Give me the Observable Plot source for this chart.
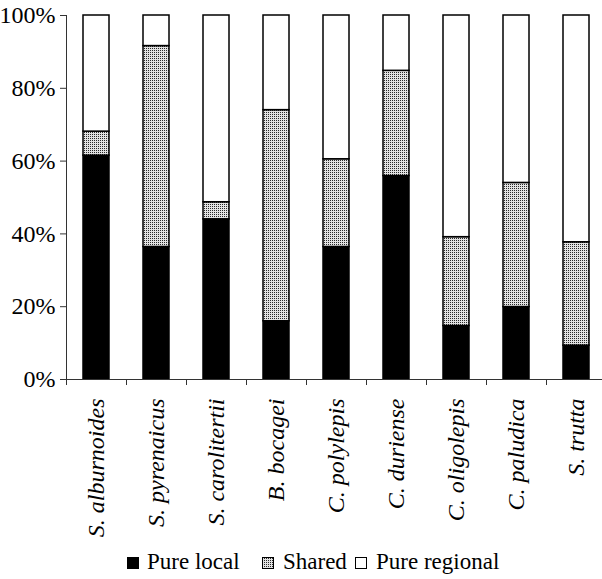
<!DOCTYPE html>
<html>
<head>
<meta charset="utf-8">
<script src="https://cdn.jsdelivr.net/npm/d3@7"></script>
<script src="https://cdn.jsdelivr.net/npm/@observablehq/plot@0.6"></script>
</head>
<body style="margin:0">
<div id="chart"></div>
<div id="legend" style="position:relative;width:602px;height:30px;"></div>
<script>
// ---- data ----
const species = ["S. alburnoides", "S. pyrenaicus", "S. carolitertii", "B. bocagei", "C. polylepis", "C. duriense", "C. oligolepis", "C. paludica", "S. trutta"];
const seriesNames = ["Pure local", "Shared", "Pure regional"];
const pureLocal    = [61.5, 36.4, 44.0, 16.0, 36.4, 55.9, 14.7, 19.9,  9.3];
const shared       = [ 6.6, 55.2,  4.7, 58.0, 24.1, 28.9, 24.4, 34.1, 28.4];
const pureRegional = [31.9,  8.4, 51.3, 26.0, 39.5, 15.2, 60.9, 46.0, 62.3];
const yTicks = [0, 20, 40, 60, 80, 100];
const yTickLabels = ["0%", "20%", "40%", "60%", "80%", "100%"];

// ---- table for Plot ----
const seriesValues = [pureLocal, shared, pureRegional];
const rows = [];
species.forEach((sp, i) => {
  seriesNames.forEach((s, k) => rows.push({species: sp, series: s, value: seriesValues[k][i]}));
});

const FONT = "Liberation Serif";
const W = 602, H = 549, ML = 66, MT = 15, MB = H - 379;
const step = 60;

const chart = Plot.plot({
  width: W,
  height: H,
  marginLeft: ML,
  marginRight: 0,
  marginTop: MT,
  marginBottom: MB,
  style: {fontFamily: FONT, fontSize: "24px", background: "#fff", color: "#000", display: "block"},
  x: {domain: species, range: [ML, ML + step * species.length], paddingInner: 0.57, paddingOuter: 0.285, axis: null},
  y: {domain: [0, 100], axis: null},
  color: {type: "ordinal", domain: seriesNames, range: ["#000", "url(#stipple)", "#fff"]},
  marks: [
    Plot.barY(rows, Plot.stackY({x: "species", y: "value", fill: "series", z: "series", order: seriesNames, stroke: "#000", strokeWidth: 1.5})),
    Plot.ruleY([0], {stroke: "#333", strokeWidth: 1}),
    Plot.ruleX([species[0]], {dx: -step / 2, stroke: "#333", strokeWidth: 1}),
    Plot.ruleX(species, {x: d => d, dx: -step / 2, y1: 0, y2: 0, insetBottom: -6, stroke: "#333", strokeWidth: 1}),
    Plot.axisY({ticks: yTicks, tickFormat: d => yTickLabels[yTicks.indexOf(d)], tickSize: 6, tickPadding: 5, fontSize: 24, label: null, stroke: "#333"}),
    Plot.axisX({tickSize: 0, tickRotate: -90, tickPadding: 19, fontSize: 24, fontStyle: "italic", label: null})
  ]
});

const svg = d3.select(chart);
const defs = svg.insert("defs", ":first-child");
const pat = defs.append("pattern").attr("id", "stipple").attr("width", 2).attr("height", 2).attr("patternUnits", "userSpaceOnUse");
pat.append("rect").attr("width", 2).attr("height", 2).attr("fill", "#e2e2e2");
pat.append("rect").attr("width", 1).attr("height", 1).attr("fill", "#2a2a2a");

document.getElementById("chart").appendChild(chart);

// ---- legend ----
const legend = document.getElementById("legend");
const swatchBg = ["#000", "repeating-conic-gradient(#2a2a2a 0 25%, #e2e2e2 0 100%) 0 0/2px 2px", "#fff"];
const swBorder = ["1px solid #000", "1px solid #000", "1.5px solid #000"];
const swLeft = [127, 262, 355];
const txLeft = [147, 283, 376];
seriesNames.forEach((name, k) => {
  const sw = document.createElement("div");
  sw.style.cssText = "position:absolute;top:8px;width:12px;height:12px;box-sizing:border-box;left:" + swLeft[k] + "px;border:" + swBorder[k] + ";background:" + swatchBg[k];
  legend.appendChild(sw);
  const t = document.createElement("div");
  t.style.fontFamily = "'Liberation Serif'";
  t.style.cssText += "position:absolute;top:0;line-height:26px;white-space:nowrap;font-size:23px;color:#000;left:" + txLeft[k] + "px";
  t.textContent = name;
  legend.appendChild(t);
});
</script>
</body>
</html>
